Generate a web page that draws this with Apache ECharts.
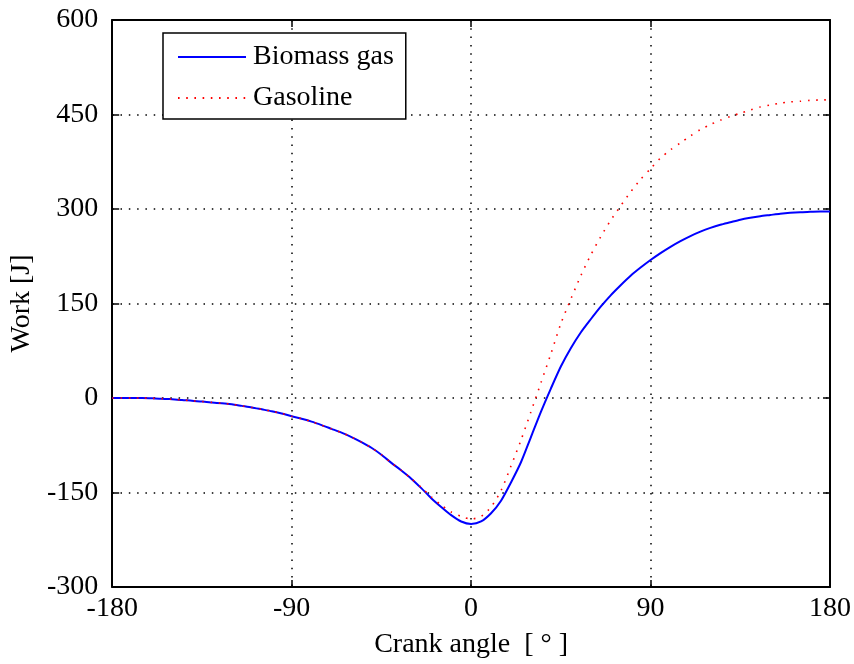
<!DOCTYPE html>
<html>
<head>
<meta charset="utf-8">
<script src="https://cdn.jsdelivr.net/npm/echarts@6/dist/echarts.min.js"></script>
<style>
  html, body { margin: 0; padding: 0; background: #fff; }
  #chart { width: 854px; height: 664px; }
</style>
</head>
<body>
<div id="chart"></div>
<script>
// Crank angle samples in degrees
const angles = [
  -180, -175, -170, -165, -160, -155, -150, -145, -140, -135, -130, -125,
  -120, -115, -110, -105, -100, -95, -90, -85, -80, -75, -70, -65,
  -60, -55, -50, -45, -40, -35, -30, -25, -20, -15, -10, -5,
  0, 5, 10, 15, 20, 25, 30, 35, 40, 45, 50, 55,
  60, 65, 70, 75, 80, 85, 90, 95, 100, 105, 110, 115,
  120, 125, 130, 135, 140, 145, 150, 155, 160, 165, 170, 175, 180
];

// Cumulative work [J], biomass gas
const biomassWork = [
  0, 0, 0, 0, -0.5, -1, -2, -3, -4.5, -5.5, -7, -8.5,
  -10, -12.5, -15, -18, -21, -24.5, -29, -33, -37.5, -43, -49, -55,
  -62, -70, -79, -90, -103, -115, -128, -143, -159, -173, -186, -196,
  -200, -196, -183, -163, -134, -102, -62, -22, 15, 50, 79, 104,
  125, 145, 163, 179, 194, 207, 219, 230, 240, 249, 257, 264,
  270, 275, 279, 283, 286, 288.5, 290.5, 292.5, 294, 295, 295.5, 296, 296
];

// Cumulative work [J], gasoline
const gasolineWork = [
  0, 0, 0, 0, -0.5, -1, -2, -3, -4.5, -5.5, -7, -8.5,
  -10, -12.5, -15, -18, -21, -24.5, -29, -33, -37.5, -43, -49, -55,
  -62, -70, -79, -90, -103, -115, -128, -142, -157, -170, -181, -188,
  -192, -188, -173, -147, -108, -67, -22, 24, 70, 118, 157, 194,
  227, 256, 282, 305, 327, 347, 364, 381, 394, 405, 416, 426,
  434, 441, 447, 452, 457, 462, 465, 468, 470, 471, 472.5, 473, 473.5
];

const seriesNames = ['Biomass gas', 'Gasoline'];
const xTitle = 'Crank angle  [ \u00b0 ]';
const yTitle = 'Work [J]';

const FONT = '"Liberation Serif", "Times New Roman", serif';
const pairs = (ys) => angles.map((a, i) => [a, ys[i]]);

const gridDots = { color: '#000', width: 1.5, type: [1.5, 6.8], cap: 'butt' };
const frameLine = { show: true, onZero: false, lineStyle: { color: '#000', width: 2 } };
const innerTick = { show: true, inside: true, length: 7, lineStyle: { color: '#000', width: 1.5 } };

const chart = echarts.init(document.getElementById('chart'), null, { renderer: 'canvas' });
chart.setOption({
  backgroundColor: '#fff',
  animation: false,
  grid: { left: 111, right: 20, top: 20, bottom: 76, containLabel: false },
  legend: {
    left: 163, top: 33,
    orient: 'vertical',
    data: seriesNames,
    backgroundColor: '#fff',
    borderColor: '#000', borderWidth: 1.5, borderRadius: 0,
    padding: [10, 12, 7, 14],
    itemWidth: 68, itemHeight: 14, itemGap: 13,
    itemStyle: { opacity: 0 },
    textStyle: { fontFamily: FONT, fontSize: 28, color: '#000', padding: [0, 0, 0, 2] }
  },
  xAxis: [
    {
      type: 'value', position: 'bottom', min: -180, max: 180, interval: 90,
      axisLine: frameLine, axisTick: innerTick,
      axisLabel: { color: '#000', fontFamily: FONT, fontSize: 28, margin: 8 },
      splitLine: { show: true, lineStyle: gridDots },
      name: xTitle, nameLocation: 'middle', nameGap: 44,
      nameTextStyle: { fontFamily: FONT, fontSize: 28, color: '#000' }
    },
    {
      type: 'value', position: 'top', min: -180, max: 180, interval: 90,
      axisLine: frameLine, axisTick: innerTick,
      axisLabel: { show: false }, splitLine: { show: false }
    }
  ],
  yAxis: [
    {
      type: 'value', position: 'left', min: -300, max: 600, interval: 150,
      axisLine: frameLine, axisTick: innerTick,
      axisLabel: { color: '#000', fontFamily: FONT, fontSize: 28, margin: 14 },
      splitLine: { show: true, lineStyle: gridDots },
      name: yTitle, nameLocation: 'middle', nameGap: 65, nameRotate: 90,
      nameTextStyle: { fontFamily: FONT, fontSize: 28, color: '#000' }
    },
    {
      type: 'value', position: 'right', min: -300, max: 600, interval: 150,
      axisLine: frameLine, axisTick: innerTick,
      axisLabel: { show: false }, splitLine: { show: false }
    }
  ],
  series: [
    {
      name: seriesNames[0], type: 'line', xAxisIndex: 0, yAxisIndex: 0,
      data: pairs(biomassWork), smooth: 0.25, symbol: 'none',
      lineStyle: { color: '#0000ff', width: 2 }, itemStyle: { color: '#0000ff' },
      z: 3
    },
    {
      name: seriesNames[1], type: 'line', xAxisIndex: 0, yAxisIndex: 0,
      data: pairs(gasolineWork), smooth: 0.25, symbol: 'none',
      lineStyle: { color: '#ff0000', width: 1.6, type: [1.6, 6.6] }, itemStyle: { color: '#ff0000' },
      z: 4
    }
  ]
});
</script>
</body>
</html>
